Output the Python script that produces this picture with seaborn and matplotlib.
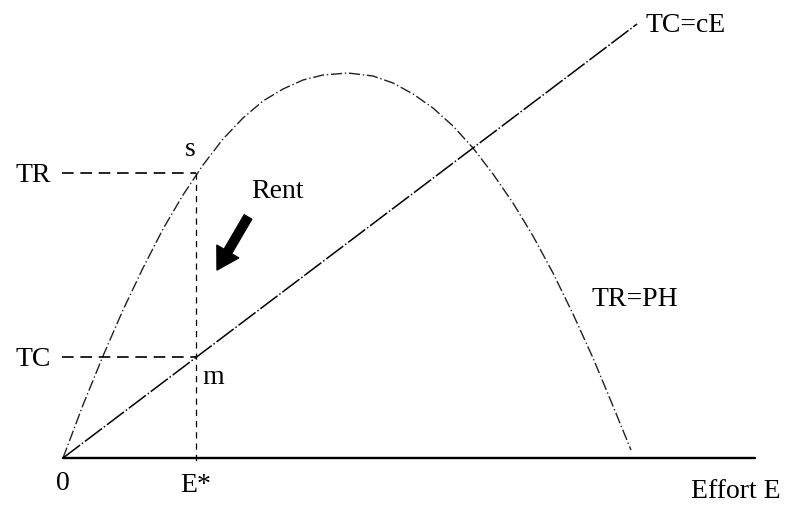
import matplotlib
matplotlib.use("Agg")
import matplotlib.pyplot as plt
import pandas as pd
import seaborn as sns

# values (effort, revenue/cost in the same units)
effort = [0, 2, 4, 6, 8, 10, 12, 14, 16, 18, 20, 22, 24, 26, 28.5,
          31, 33, 35, 37, 39, 41, 43, 45, 47, 49, 51, 53, 55, 56.8]
revenue = [0, 5.3, 10.2, 14.8, 19.0, 22.9, 26.3, 29.3, 31.9, 34.0, 35.7,
           36.9, 37.8, 38.3, 38.5, 38.2, 37.5, 36.4, 35.0, 33.2, 31.0,
           28.4, 25.5, 22.2, 18.5, 14.4, 10.0, 5.2, 0.8]
cost_effort = [0, 57.4]
cost = [0, 43.4]
e_star = 13.3
tr_level = 28.5
tc_level = 10.1
axis_end = 69.2

tr_df = pd.DataFrame({"E": effort, "TR": revenue})
tc_df = pd.DataFrame({"E": cost_effort, "TC": cost})

sns.set_style("white")
plt.rcParams["font.family"] = ["Liberation Serif", "DejaVu Serif"]
plt.rcParams["text.color"] = "black"

fig = plt.figure(figsize=(7.87, 5.12), dpi=100)
ax = fig.add_axes([0, 0, 1, 1])

# curves
sns.lineplot(data=tr_df, x="E", y="TR", ax=ax, color="#222222", lw=1.0,
             linestyle=(0, (8, 2, 1, 2)), sort=False)
sns.lineplot(data=tc_df, x="E", y="TC", ax=ax, color="black", lw=1.1,
             linestyle=(0, (14, 1.5, 1, 1.5)))

# horizontal axis
ax.plot([0, axis_end], [0, 0], color="black", lw=1.7)

# guide lines at E*
ax.plot([-0.1, e_star], [tr_level, tr_level], color="black", lw=1.2, linestyle=(0, (7, 4)))
ax.plot([-0.1, e_star], [tc_level, tc_level], color="black", lw=1.2, linestyle=(0, (7, 4)))
ax.plot([e_star, e_star], [tr_level, -0.4], color="black", lw=0.9, linestyle=(0, (5, 4)))

# labels
fs = 20
ax.text(-1.2, tr_level - 0.2, "TR", fontsize=fs, ha="right", va="center")
ax.text(-1.2, tc_level - 0.2, "TC", fontsize=fs, ha="right", va="center")
ax.text(e_star - 0.6, tr_level + 2.4, "s", fontsize=fs, ha="center", va="center")
ax.text(e_star + 0.6, tc_level - 2.0, "m", fontsize=fs, ha="left", va="center")
ax.text(0, -2.6, "0", fontsize=fs, ha="center", va="center")
ax.text(e_star, -2.8, "E*", fontsize=fs, ha="center", va="center")
ax.text(71.8, -3.3, "Effort E", fontsize=fs, ha="right", va="center")
ax.text(58.2, 43.2, "TC=cE", fontsize=fs, ha="left", va="center")
ax.text(52.8, 15.8, "TR=PH", fontsize=fs, ha="left", va="center")
ax.text(18.8, 26.6, "Rent", fontsize=fs, ha="left", va="center")

ax.annotate("", xy=(15.4, 18.8), xytext=(18.5, 24.1),
            arrowprops=dict(arrowstyle="simple,head_width=1.3,head_length=1.1,tail_width=0.45",
                            color="black", mutation_scale=14, shrinkA=0, shrinkB=0))

ax.set_xlim(-6.3, 72.4)
ax.set_ylim(-5.4, 45.8)
ax.axis("off")

fig.savefig("out.png", dpi=100, facecolor="white")
